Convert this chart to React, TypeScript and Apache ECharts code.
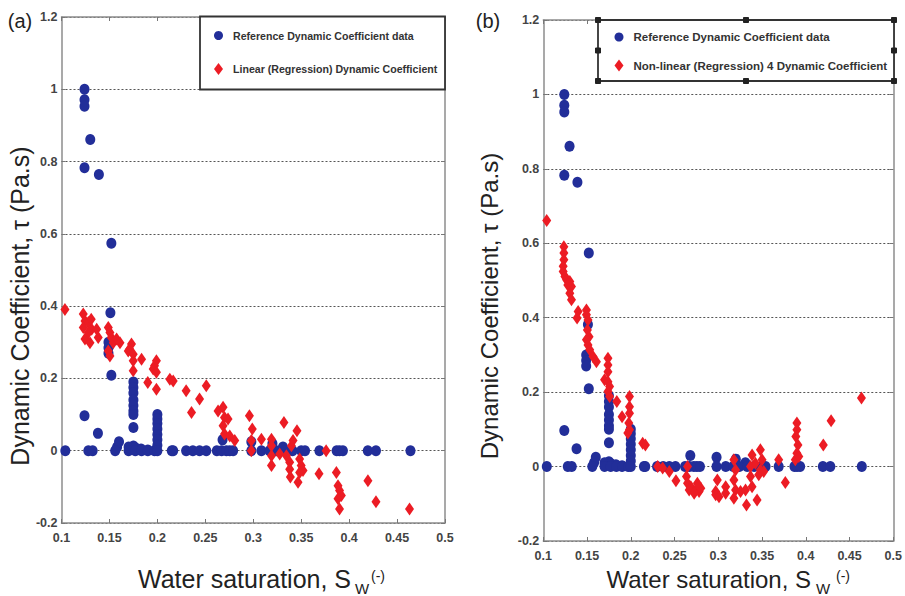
import React, { useEffect, useRef } from "react";
import * as echarts from "echarts";

// ---------- data ----------
const refName = "Reference Dynamic Coefficient data";
const linName = "Linear (Regression) Dynamic Coefficient";
const nonlinName = "Non-linear (Regression) 4 Dynamic Coefficient";

// Reference dynamic coefficient data (blue, both panels): [Sw, tau]
const refData: number[][] = [
  [0.124, 1.0], [0.124, 0.971], [0.124, 0.953], [0.13, 0.861], [0.124, 0.783], [0.139, 0.764],
  [0.152, 0.574], [0.151, 0.382], [0.149, 0.3], [0.149, 0.285], [0.149, 0.27], [0.152, 0.209],
  [0.124, 0.097], [0.138, 0.048],
  [0.175, 0.19], [0.175, 0.175], [0.175, 0.16], [0.175, 0.14], [0.175, 0.125], [0.175, 0.11],
  [0.175, 0.1], [0.175, 0.064], [0.175, 0.013],
  [0.158, 0.01], [0.16, 0.025], [0.17, 0.01], [0.177, 0.008], [0.183, 0.005], [0.19, 0.002],
  [0.2, 0.1], [0.2, 0.088], [0.2, 0.075], [0.2, 0.06], [0.2, 0.045], [0.2, 0.03], [0.2, 0.015],
  [0.268, 0.03], [0.298, 0.025], [0.32, 0.02], [0.331, 0.01],
  [0.104, 0], [0.128, 0], [0.1325, 0], [0.156, 0], [0.17, 0], [0.177, 0], [0.1835, 0], [0.19, 0],
  [0.197, 0], [0.2, 0], [0.215, 0], [0.2165, 0], [0.23, 0], [0.237, 0], [0.244, 0], [0.251, 0],
  [0.262, 0], [0.267, 0], [0.272, 0], [0.2755, 0], [0.279, 0], [0.298, 0], [0.3085, 0], [0.317, 0],
  [0.324, 0], [0.333, 0], [0.341, 0], [0.35, 0], [0.354, 0], [0.369, 0], [0.387, 0], [0.39, 0],
  [0.3935, 0], [0.4195, 0], [0.428, 0], [0.464, 0],
];

// Linear regression dynamic coefficient (red, panel a)
const linearData: number[][] = [
  [0.1036, 0.391], [0.1227, 0.378], [0.1245, 0.359], [0.1227, 0.341], [0.128, 0.355], [0.131, 0.364],
  [0.1315, 0.336], [0.1245, 0.309], [0.1297, 0.299], [0.1367, 0.336], [0.1383, 0.313], [0.128, 0.327],
  [0.1488, 0.341], [0.1505, 0.327], [0.152, 0.313], [0.1488, 0.276], [0.1505, 0.262], [0.154, 0.299],
  [0.1575, 0.309], [0.161, 0.299],
  [0.173, 0.295], [0.171, 0.281], [0.1696, 0.276], [0.1748, 0.267], [0.1748, 0.249], [0.1748, 0.221],
  [0.1835, 0.253],
  [0.199, 0.249], [0.197, 0.235], [0.1956, 0.226], [0.199, 0.217], [0.199, 0.17], [0.19, 0.189],
  [0.213, 0.198], [0.2165, 0.193], [0.23, 0.166], [0.244, 0.143], [0.251, 0.18], [0.2356, 0.106],
  [0.2633, 0.11], [0.2685, 0.12], [0.27, 0.092], [0.2737, 0.088], [0.2685, 0.069], [0.27, 0.046],
  [0.2755, 0.041], [0.2807, 0.028],
  [0.296, 0.097], [0.299, 0.06], [0.298, 0.028], [0.298, 0.0], [0.3085, 0.032], [0.319, 0.032],
  [0.319, 0.014], [0.319, -0.014], [0.319, -0.041], [0.3276, -0.009], [0.332, 0.078], [0.3346, -0.014],
  [0.338, -0.032], [0.338, -0.051], [0.3398, 0.014], [0.3415, 0.028], [0.3387, -0.073], [0.3456, 0.055],
  [0.3467, -0.087], [0.3484, -0.023], [0.35, -0.041], [0.3519, -0.055], [0.3484, -0.06],
  [0.3686, -0.064], [0.376, 0.0], [0.3867, -0.06], [0.3884, -0.097], [0.39, -0.11], [0.3919, -0.124],
  [0.3884, -0.133], [0.39, -0.161], [0.4196, -0.083], [0.428, -0.141], [0.463, -0.161],
];

// Non-linear regression 4 dynamic coefficient (red, panel b)
const nonlinearData: number[][] = [
  [0.1039, 0.661],
  [0.1235, 0.591], [0.1235, 0.574], [0.1235, 0.556], [0.1227, 0.538], [0.1227, 0.524], [0.1247, 0.511],
  [0.1266, 0.502], [0.1303, 0.497], [0.1322, 0.484], [0.128, 0.488], [0.1303, 0.466], [0.1322, 0.448],
  [0.1398, 0.417], [0.1386, 0.399],
  [0.1493, 0.421], [0.1493, 0.408], [0.1511, 0.394], [0.1504, 0.367], [0.1523, 0.349], [0.1493, 0.341],
  [0.1511, 0.327], [0.153, 0.314], [0.1568, 0.296], [0.1607, 0.282],
  [0.1739, 0.291], [0.1739, 0.273], [0.1739, 0.255], [0.17, 0.233], [0.1739, 0.228], [0.1758, 0.215],
  [0.1739, 0.202], [0.1758, 0.188], [0.184, 0.175], [0.19, 0.134],
  [0.1985, 0.188], [0.1985, 0.161], [0.1985, 0.143], [0.1977, 0.117], [0.1985, 0.099], [0.1966, 0.09],
  [0.2136, 0.063], [0.2167, 0.058],
  [0.2307, 0.0], [0.2364, -0.004], [0.244, -0.013], [0.2516, -0.038],
  [0.2648, 0.0], [0.2636, -0.027], [0.2648, -0.045], [0.2686, -0.054], [0.2743, -0.063], [0.278, -0.067],
  [0.2667, -0.063], [0.2724, -0.072], [0.28, -0.058], [0.2761, -0.045],
  [0.297, -0.067], [0.297, -0.076], [0.3008, -0.081], [0.2989, -0.036], [0.3084, -0.054], [0.3084, -0.072],
  [0.3178, 0.018], [0.3197, -0.009], [0.3178, -0.036], [0.3197, -0.063], [0.3178, -0.085],
  [0.3254, -0.067], [0.3322, -0.103], [0.3311, -0.063],
  [0.3386, 0.031], [0.3368, 0.0], [0.3368, -0.027], [0.3386, -0.054], [0.3443, -0.09], [0.3424, 0.009],
  [0.3481, 0.045], [0.35, 0.018], [0.3481, -0.009], [0.3462, -0.022], [0.3519, -0.013],
  [0.369, 0.018], [0.3766, -0.043],
  [0.3898, 0.117], [0.3898, 0.099], [0.3886, 0.081], [0.391, 0.058], [0.3898, 0.036], [0.388, 0.018],
  [0.392, 0.027],
  [0.42, 0.058], [0.4289, 0.123], [0.4636, 0.184],
];

const xMin = 0.1, xMax = 0.5, xStep = 0.05;
const yMin = -0.2, yMax = 1.2, yStep = 0.2;

// ---------- styles ----------
const SANS = "'Liberation Sans', Arial, sans-serif";
const BLUE = "#222e99";
const RED = "#ec1c24";
const AXIS = "#8c8c8c";

const grids = [
  { left: 61.5, top: 17, width: 383.5, height: 506 },
  { left: 543.3, top: 20, width: 352, height: 521 },
];

function xAxes(gridIndex: number) {
  const base = {
    type: "value", gridIndex, min: xMin, max: xMax, interval: xStep,
    splitLine: { show: false },
    axisLine: { show: true, onZero: false, lineStyle: { color: AXIS, width: 1.5 } },
    axisTick: { show: true, inside: true, length: 4, lineStyle: { color: "#777" } },
  };
  return [
    {
      ...base, position: "bottom",
      axisLabel: {
        show: true, margin: 8, color: "#444", fontFamily: SANS, fontWeight: "bold", fontSize: 12.5,
        formatter: (v: number) => String(+v.toFixed(2)),
      },
    },
    { ...base, position: "top", axisLabel: { show: false } },
  ];
}

function yAxes(gridIndex: number) {
  const base = {
    type: "value", gridIndex, min: yMin, max: yMax, interval: yStep,
    axisLine: { show: true, onZero: false, lineStyle: { color: AXIS, width: 1.5 } },
    axisTick: { show: true, inside: true, length: 4, lineStyle: { color: "#777" } },
  };
  return [
    {
      ...base, position: "left",
      splitLine: { show: true, lineStyle: { color: "#555", type: [2, 2], width: 1.2 } },
      axisLabel: {
        show: true, margin: 4, color: "#444", fontFamily: SANS, fontWeight: "bold", fontSize: 12.5,
        formatter: (v: number) => String(+v.toFixed(1)),
      },
    },
    { ...base, position: "right", splitLine: { show: false }, axisLabel: { show: false } },
  ];
}

function legendFor(left: number, top: number, gap: number, fontSize: number, names: string[]) {
  return {
    orient: "vertical", left, top, padding: 0, itemGap: gap, itemWidth: 9, itemHeight: 12,
    selectedMode: false, z: 4,
    data: [
      { name: names[0], icon: "circle" },
      { name: names[1], icon: "diamond" },
    ],
    textStyle: {
      fontFamily: SANS, fontWeight: "bold", fontSize, color: "#333", padding: [0, 0, 0, 5],
    },
  };
}

function titleTexts(cx: number, cy: number, x0: number, baseY: number, size: number, tag: string, tagX: number) {
  return [
    {
      type: "text", x: tagX, y: 21, style: {
        text: tag, font: `20px ${SANS}`, fill: "#222", textAlign: "center", textVerticalAlign: "middle",
      },
    },
    {
      type: "text", x: cx, y: cy, rotation: Math.PI / 2, style: {
        text: "Dynamic Coefficient, τ (Pa.s)", font: `${size}px ${SANS}`, fill: "#222",
        textAlign: "center", textVerticalAlign: "middle",
      },
    },
    {
      type: "text", x: x0, y: baseY, style: {
        text: "Water saturation, S", font: `${size}px ${SANS}`, fill: "#222",
        textAlign: "left", textVerticalAlign: "bottom",
      },
    },
  ];
}

export default function App() {
  const ref = useRef<HTMLDivElement>(null);
  useEffect(() => {
    if (!ref.current) return;
    const chart = echarts.init(ref.current, undefined, { renderer: "svg" });

    const handles = [
      [598, 20], [746, 20], [894, 20], [598, 50.5], [894, 50.5], [598, 81], [746, 81], [894, 81],
    ].map(([x, y]) => ({
      type: "rect", shape: { x: x - 2.5, y: y - 2.5, width: 5, height: 5 },
      style: { fill: "#222", stroke: "#222" }, z: 6,
    }));

    const option: any = {
      animation: false,
      backgroundColor: "#fff",
      grid: grids.map((g) => ({ ...g, containLabel: false })),
      xAxis: [...xAxes(0), ...xAxes(1)],
      yAxis: [...yAxes(0), ...yAxes(1)],
      legend: [
        legendFor(214, 30, 22, 10.6, [refName, linName]),
        legendFor(614.5, 31, 16.5, 11.5, [refName, nonlinName]),
      ],
      series: [
        {
          name: refName, type: "scatter", xAxisIndex: 0, yAxisIndex: 0, data: refData,
          symbol: "circle", symbolSize: [10, 11], itemStyle: { color: BLUE, opacity: 1 }, z: 2,
        },
        {
          name: linName, type: "scatter", xAxisIndex: 0, yAxisIndex: 0, data: linearData,
          symbol: "diamond", symbolSize: [9, 13], itemStyle: { color: RED, opacity: 1 }, z: 3,
        },
        {
          name: refName, type: "scatter", xAxisIndex: 2, yAxisIndex: 2, data: refData,
          symbol: "circle", symbolSize: [10, 11], itemStyle: { color: BLUE, opacity: 1 }, z: 2,
        },
        {
          name: nonlinName, type: "scatter", xAxisIndex: 2, yAxisIndex: 2, data: nonlinearData,
          symbol: "diamond", symbolSize: [9, 13], itemStyle: { color: RED, opacity: 1 }, z: 3,
        },
      ],
      graphic: [
        {
          type: "rect", shape: { x: 200, y: 16.5, width: 245, height: 73 },
          style: { fill: "#fff", stroke: "#333", lineWidth: 1.8 }, z: 3.5,
        },
        {
          type: "rect", shape: { x: 598, y: 20, width: 296, height: 61 },
          style: { fill: "#fff", stroke: "#333", lineWidth: 1.8 }, z: 3.5,
        },
        ...handles,
        ...titleTexts(19.5, 306, 138, 591, 25, "(a)", 20),
        ...titleTexts(489, 306, 606.5, 591, 24, "(b)", 488),
        {
          type: "text", x: 355, y: 596, style: { text: "W", font: `15px ${SANS}`, fill: "#222", textVerticalAlign: "bottom" },
        },
        {
          type: "text", x: 371, y: 583, style: { text: "(-)", font: `14px ${SANS}`, fill: "#222", textVerticalAlign: "bottom" },
        },
        {
          type: "text", x: 816, y: 596, style: { text: "W", font: `15px ${SANS}`, fill: "#222", textVerticalAlign: "bottom" },
        },
        {
          type: "text", x: 836, y: 583, style: { text: "(-)", font: `14px ${SANS}`, fill: "#222", textVerticalAlign: "bottom" },
        },
      ],
    };
    chart.setOption(option);
    return () => chart.dispose();
  }, []);

  return (
    <div
      ref={ref}
      style={{ position: "fixed", left: 0, top: 0, width: 905, height: 596, background: "#fff" }}
    />
  );
}
